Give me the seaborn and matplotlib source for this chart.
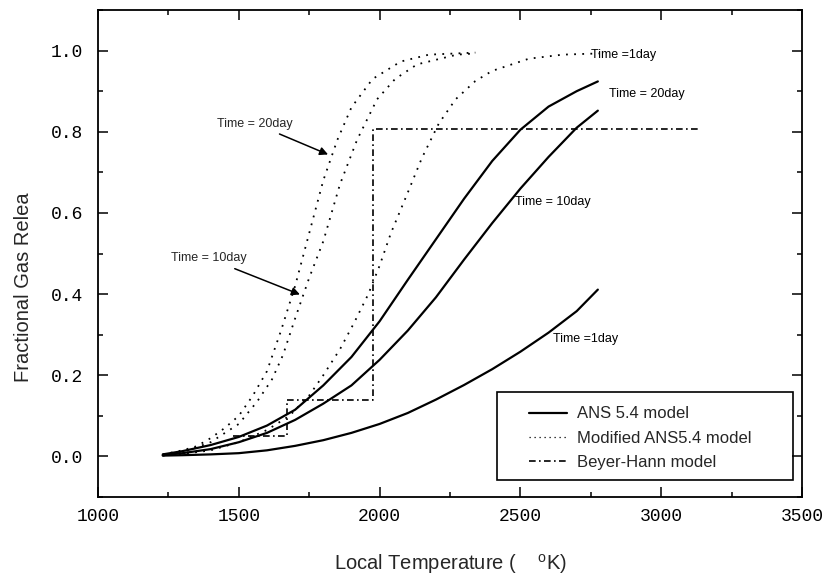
import matplotlib
matplotlib.use("Agg")
import matplotlib.pyplot as plt
import seaborn as sns
import pandas as pd
from matplotlib.lines import Line2D
from matplotlib.patches import Rectangle
from matplotlib.ticker import MultipleLocator, FormatStrFormatter

# ---------------- data ----------------
# ANS 5.4 model (solid)
T_ans_1 = [1230, 1300, 1400, 1500, 1600, 1700, 1800, 1900, 2000, 2100, 2200, 2300, 2400, 2500, 2600, 2700, 2775]
F_ans_1 = [0.002, 0.003, 0.005, 0.008, 0.015, 0.026, 0.040, 0.058, 0.080, 0.107, 0.140, 0.176, 0.215, 0.258, 0.305, 0.358, 0.411]

T_ans_10 = [1230, 1300, 1400, 1500, 1600, 1700, 1800, 1900, 2000, 2100, 2200, 2300, 2400, 2500, 2600, 2700, 2775]
F_ans_10 = [0.003, 0.008, 0.018, 0.035, 0.058, 0.090, 0.130, 0.175, 0.238, 0.310, 0.392, 0.485, 0.575, 0.660, 0.738, 0.810, 0.852]

T_ans_20 = [1230, 1300, 1400, 1500, 1600, 1700, 1800, 1900, 2000, 2100, 2200, 2300, 2400, 2500, 2600, 2700, 2775]
F_ans_20 = [0.005, 0.013, 0.028, 0.048, 0.076, 0.115, 0.175, 0.245, 0.333, 0.435, 0.535, 0.635, 0.728, 0.805, 0.862, 0.900, 0.924]

# Modified ANS5.4 model (dotted)
T_mod_1 = [1230, 1300, 1400, 1500, 1600, 1680, 1750, 1800, 1860, 1910, 1960, 2000, 2040, 2100, 2150, 2210, 2270, 2340, 2400, 2530, 2650, 2780]
F_mod_1 = [0.002, 0.006, 0.015, 0.035, 0.065, 0.100, 0.150, 0.200, 0.265, 0.330, 0.400, 0.470, 0.550, 0.650, 0.735, 0.820, 0.880, 0.925, 0.950, 0.980, 0.990, 0.993]

T_mod_10 = [1230, 1300, 1400, 1500, 1565, 1618, 1657, 1700, 1750, 1800, 1859, 1920, 1991, 2055, 2133, 2275, 2340]
F_mod_10 = [0.004, 0.010, 0.035, 0.080, 0.135, 0.190, 0.250, 0.340, 0.440, 0.530, 0.670, 0.780, 0.880, 0.930, 0.966, 0.990, 0.993]

T_mod_20 = [1230, 1300, 1350, 1400, 1450, 1500, 1550, 1600, 1650, 1700, 1750, 1800, 1850, 1900, 1975, 2075, 2175, 2340]
F_mod_20 = [0.005, 0.015, 0.025, 0.045, 0.070, 0.100, 0.150, 0.210, 0.310, 0.420, 0.550, 0.680, 0.780, 0.860, 0.930, 0.973, 0.990, 0.995]

# Beyer-Hann model (dash-dot step)
T_bh = [1480, 1670, 1670, 1975, 1975, 3130]
F_bh = [0.050, 0.050, 0.140, 0.140, 0.808, 0.808]

legend_labels = ["ANS 5.4 model", "Modified ANS5.4 model", "Beyer-Hann model"]

# ---------------- style ----------------
sns.set_style("ticks")
plt.rcParams["font.family"] = ["Liberation Sans", "DejaVu Sans"]
plt.rcParams["mathtext.fontset"] = "custom"
plt.rcParams["mathtext.rm"] = "Liberation Sans"

fig = plt.figure(figsize=(8.23, 5.79), dpi=100)
ax = fig.add_axes([98 / 823, 82 / 579, 704 / 823, 487 / 579])

solid_kw = dict(color="black", linewidth=1.6, linestyle="-")
dot_kw = dict(color="black", linewidth=1.3, linestyle=(0, (1, 3.5)))
dashdot_kw = dict(color="black", linewidth=1.2, linestyle=(0, (4, 2, 1, 2)))

def draw(T, F, kw):
    df = pd.DataFrame({"T": T, "F": F})
    sns.lineplot(data=df, x="T", y="F", ax=ax, sort=False, estimator=None, **kw)

for T, F in [(T_ans_1, F_ans_1), (T_ans_10, F_ans_10), (T_ans_20, F_ans_20)]:
    draw(T, F, solid_kw)
for T, F in [(T_mod_1, F_mod_1), (T_mod_10, F_mod_10), (T_mod_20, F_mod_20)]:
    draw(T, F, dot_kw)
draw(T_bh, F_bh, dashdot_kw)

ax.set_xlim(1000, 3500)
ax.set_ylim(-0.1, 1.1)
ax.xaxis.set_major_locator(MultipleLocator(500))
ax.xaxis.set_minor_locator(MultipleLocator(250))
ax.yaxis.set_major_locator(MultipleLocator(0.2))
ax.yaxis.set_minor_locator(MultipleLocator(0.1))
ax.yaxis.set_major_formatter(FormatStrFormatter("%.1f"))
ax.set_yticks([0.0, 0.2, 0.4, 0.6, 0.8, 1.0])

ax.tick_params(which="both", direction="in", top=True, right=True, width=1.1, color="black")
ax.tick_params(which="major", length=7)
ax.tick_params(which="minor", length=3.5)
ax.tick_params(axis="y", which="major", pad=11)
ax.tick_params(axis="x", which="major", pad=8)
for lab in ax.get_xticklabels() + ax.get_yticklabels():
    lab.set_fontfamily("Liberation Mono")
    lab.set_fontsize(13)
    lab.set_color("black")
for sp in ax.spines.values():
    sp.set_linewidth(1.3)
    sp.set_color("black")

ax.set_xlabel(r"Local Temperature (    $^{\rm o}$K)", fontsize=14.5)
ax.set_ylabel("Fractional Gas Relea", fontsize=14.5)
ax.xaxis.set_label_coords(0.5, -0.113)
ax.yaxis.set_label_coords(-0.092, 0.43)

# annotations
tf = dict(fontsize=9, color="black", va="center", ha="left")
ax.text(2751, 0.990, "Time =1day", **tf)
ax.text(2815, 0.892, "Time = 20day", **tf)
ax.text(2481, 0.626, "Time = 10day", **tf)
ax.text(2616, 0.290, "Time =1day", **tf)
ax.annotate("Time = 20day", xy=(1817, 0.744), xytext=(1423, 0.820),
            fontsize=9, va="center", ha="left",
            arrowprops=dict(arrowstyle="-|>", color="black", lw=1.1,
                            mutation_scale=12, shrinkA=2, shrinkB=0))
ax.annotate("Time = 10day", xy=(1717, 0.399), xytext=(1259, 0.488),
            fontsize=9, va="center", ha="left",
            arrowprops=dict(arrowstyle="-|>", color="black", lw=1.1,
                            mutation_scale=12, shrinkA=2, shrinkB=0))

# legend
handles = [Line2D([], [], **solid_kw), Line2D([], [], color="black", linewidth=0.9, linestyle=(0, (1, 3))),
           Line2D([], [], **dashdot_kw)]
leg = ax.legend(handles, legend_labels, loc="upper left", bbox_to_anchor=(0.612, 0.186),
                frameon=False, fontsize=12, borderpad=0, borderaxespad=0,
                handlelength=2.3, handletextpad=0.6, labelspacing=0.56)
ax.add_patch(Rectangle((0.567, 0.035), 0.42, 0.181, transform=ax.transAxes,
                       fill=False, edgecolor="black", linewidth=1.2, zorder=5))

fig.savefig("out.png", dpi=100)
